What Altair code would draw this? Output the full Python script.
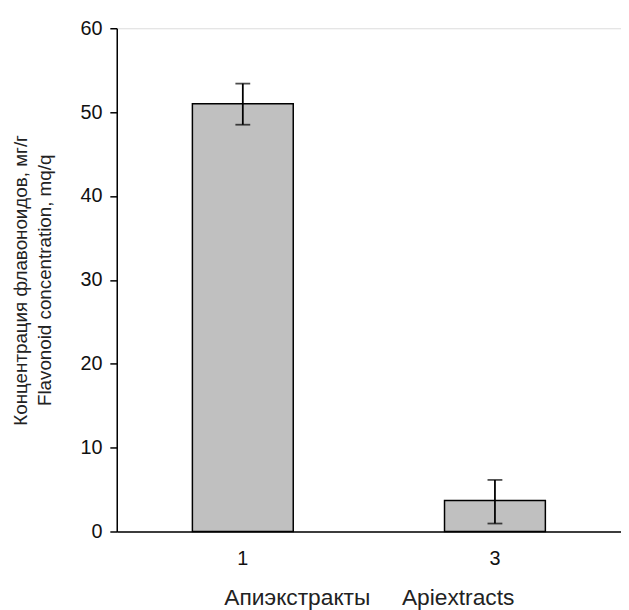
import altair as alt
import pandas as pd

categories = ["1", "3"]
means = [51.0, 3.7]
lows = [48.5, 0.95]
highs = [53.4, 6.15]

df = pd.DataFrame({"cat": categories, "mean": means, "lo": lows, "hi": highs})

FONT = "Liberation Sans"

x = alt.X("cat:N", sort=categories,
          scale=alt.Scale(paddingInner=0.6, paddingOuter=0.3),
          axis=alt.Axis(title="Апиэкстракты\u00a0\u00a0\u00a0\u00a0\u00a0Apiextracts",
                        labelAngle=0, ticks=False, labelPadding=17, titlePadding=19,
                        domainColor="black", domainWidth=1.5,
                        labelFont=FONT, labelFontSize=20, labelColor="#111",
                        titleFont=FONT, titleFontSize=23, titleFontWeight="normal",
                        titleColor="#222"))

y_axis = alt.Axis(values=[0, 10, 20, 30, 40, 50, 60], grid=False,
                  title=["Концентрация флавоноидов, мг/г", "Flavonoid concentration, mq/q"],
                  tickSize=7, tickColor="black", tickWidth=1.5,
                  domainColor="black", domainWidth=1.5,
                  labelPadding=8, labelFont=FONT, labelFontSize=20, labelColor="#111",
                  titleFont=FONT, titleFontSize=19, titleFontWeight="normal",
                  titleColor="#222", titleLineHeight=24, titlePadding=26)

base = alt.Chart(df)

bars = base.mark_bar(color="#c0c0c0", stroke="black", strokeWidth=1.5).encode(
    x=x,
    y=alt.Y("mean:Q", scale=alt.Scale(domain=[0, 60], nice=False), axis=y_axis),
)

rules = base.mark_rule(color="black", strokeWidth=1.8).encode(
    x=alt.X("cat:N", sort=categories), y="lo:Q", y2="hi:Q")

cap_lo = base.mark_tick(color="black", size=15, thickness=1.8).encode(
    x=alt.X("cat:N", sort=categories), y="lo:Q")
cap_hi = base.mark_tick(color="black", size=15, thickness=1.8).encode(
    x=alt.X("cat:N", sort=categories), y="hi:Q")

chart = alt.layer(bars, rules, cap_lo, cap_hi).properties(
    width=510, height=509,
    autosize=alt.AutoSizeParams(type="none"),
    padding={"left": 110, "top": 17, "right": 0, "bottom": 84},
).configure_view(stroke=None).configure(background="white")

chart.save("out.html", embed_options={"renderer": "svg", "actions": False})
